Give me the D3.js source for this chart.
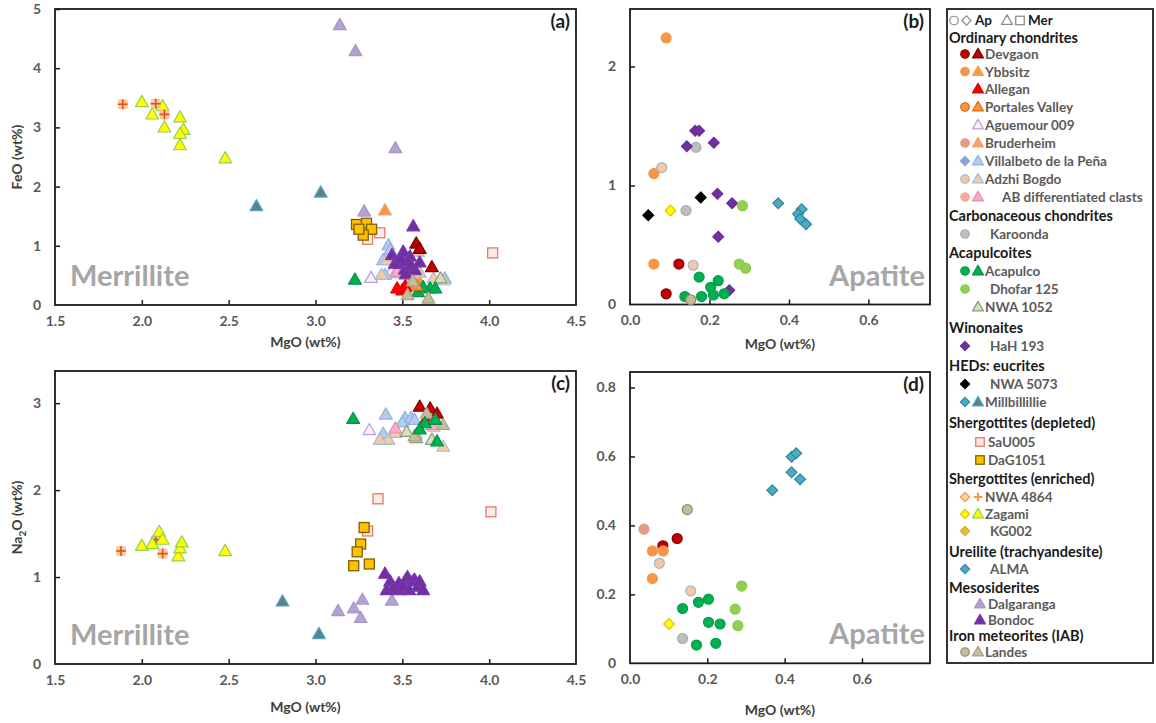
<!DOCTYPE html>
<html><head><meta charset="utf-8">
<script src="https://cdn.jsdelivr.net/npm/d3@7"></script>
<style>body{margin:0;background:#fff}</style>
</head><body>
<svg id="chart" width="1156" height="723"></svg>
<script>
// ---------------- DATA ----------------
// Panel (a): merrillite FeO vs MgO (wt%)
const zagamiMerFeO      = [[2.00,3.43],[2.12,3.36],[2.06,3.22],[2.22,3.17],[2.13,3.00],[2.24,2.96],[2.22,2.89],[2.22,2.70],[2.48,2.48]];
const nwa4864MerFeO     = [[1.89,3.39],[2.08,3.40],[2.13,3.22]];
const millbilMerFeO     = [[2.66,1.67],[3.03,1.90]];
const dalgarangaMerFeO  = [[3.14,4.73],[3.23,4.29],[3.46,2.65],[3.28,1.58]];
const sau005MerFeO      = [[3.37,1.22],[3.30,1.11],[4.02,0.88]];
const dag1051MerFeO     = [[3.236,1.36],[3.294,1.38],[3.323,1.28],[3.275,1.18],[3.25,1.28]];
const ybbsitzMerFeO     = [[3.40,1.60],[3.55,0.37],[3.60,0.39]];
const aguemourMerFeO    = [[3.32,0.46],[3.44,0.58]];
const villalbetoMerFeO  = [[3.42,1.01],[3.39,0.76],[3.40,0.51],[3.745,0.45],[3.43,0.93]];
const adzhiMerFeO       = [[3.59,0.90],[3.68,0.45],[3.74,0.42],[3.41,0.76],[3.46,0.54],[3.38,0.51],[3.60,0.55],[3.52,0.62]];
const abClastMerFeO     = [[3.47,0.56],[3.55,0.47]];
const bondocMerFeO      = [[3.563,1.33],[3.44,0.845],[3.505,0.90],[3.544,0.82],[3.486,0.70],[3.573,0.59],[3.515,0.60],[3.457,0.70],[3.534,0.73],[3.49,0.79],[3.55,0.67],[3.60,0.72],[3.52,0.52]];
const devgaonMerFeO     = [[3.58,1.04],[3.67,0.64],[3.60,0.95]];
const acapulcoMerFeO    = [[3.227,0.43],[3.59,0.22],[3.66,0.28],[3.69,0.28],[3.62,0.30]];
const portalesMerFeO    = [[3.58,0.33],[3.52,0.30]];
const alleganMerFeO     = [[3.50,0.25],[3.515,0.31],[3.47,0.28]];
const landesMerFeO      = [[3.65,0.11],[3.53,0.17],[3.56,0.40]];
const nwa1052MerFeO     = [[3.72,0.45]];

// Panel (b): apatite FeO vs MgO (wt%)
const ybbsitzApFeO   = [[0.091,2.24],[0.060,1.10],[0.060,0.34]];
const adzhiApFeO     = [[0.080,1.15],[0.159,0.33]];
const hah193ApFeO    = [[0.164,1.46],[0.174,1.46],[0.143,1.33],[0.211,1.36],[0.220,0.93],[0.257,0.85],[0.222,0.57],[0.250,0.12]];
const karoondaApFeO  = [[0.166,1.32],[0.141,0.79]];
const nwa5073ApFeO   = [[0.046,0.75],[0.178,0.90]];
const zagamiApFeO    = [[0.102,0.79]];
const dhofarApFeO    = [[0.283,0.83],[0.275,0.34],[0.291,0.305]];
const almaApFeO      = [[0.373,0.85],[0.432,0.80],[0.423,0.76],[0.428,0.72],[0.443,0.675]];
const devgaonApFeO   = [[0.123,0.34],[0.091,0.09]];
const acapulcoApFeO  = [[0.174,0.23],[0.222,0.20],[0.203,0.145],[0.138,0.067],[0.180,0.067],[0.210,0.08],[0.237,0.09]];
const landesApFeO    = [[0.153,0.04]];

// Panel (c): merrillite Na2O vs MgO (wt%)
const nwa4864MerNa     = [[1.88,1.30],[2.08,1.43],[2.12,1.27]];
const zagamiMerNa      = [[2.00,1.36],[2.06,1.38],[2.10,1.52],[2.12,1.43],[2.21,1.24],[2.22,1.33],[2.23,1.40],[2.48,1.30]];
const millbilMerNa     = [[2.81,0.72],[3.02,0.345]];
const dalgarangaMerNa  = [[3.13,0.61],[3.22,0.64],[3.27,0.74],[3.26,0.53],[3.44,0.73]];
const sau005MerNa      = [[3.36,1.90],[4.01,1.75],[3.30,1.53]];
const dag1051MerNa     = [[3.28,1.57],[3.26,1.38],[3.24,1.29],[3.22,1.13],[3.31,1.15]];
const bondocMerNa      = [[3.40,1.04],[3.43,0.95],[3.41,0.85],[3.48,0.93],[3.52,0.97],[3.56,0.95],[3.59,0.89],[3.54,0.85],[3.62,0.85],[3.48,0.85],[3.57,0.97],[3.50,0.90],[3.45,0.88],[3.60,0.95],[3.53,1.00]];
const acapulcoMerNa    = [[3.217,2.82],[3.63,2.77],[3.69,2.81],[3.70,2.56],[3.60,2.70]];
const aguemourMerNa    = [[3.31,2.69]];
const villalbetoMerNa  = [[3.405,2.87],[3.515,2.83],[3.55,2.83],[3.57,2.81],[3.39,2.65],[3.50,2.78]];
const devgaonMerNa     = [[3.60,2.96],[3.66,2.94],[3.70,2.88]];
const adzhiMerNa       = [[3.42,2.58],[3.58,2.64],[3.735,2.50],[3.68,2.73],[3.37,2.58],[3.46,2.66]];
const abClastMerNa     = [[3.46,2.71],[3.67,2.75]];
const nwa1052MerNa     = [[3.525,2.67],[3.67,2.58],[3.58,2.60]];
const landesMerNa      = [[3.64,2.88],[3.735,2.75],[3.57,2.62]];
const alleganMerNa     = [[3.64,2.83]];

// Panel (d): apatite Na2O vs MgO (wt%)
const almaApNa       = [[0.368,0.502],[0.418,0.599],[0.430,0.609],[0.418,0.554],[0.440,0.534]];
const landesApNa     = [[0.148,0.446]];
const bruderheimApNa = [[0.036,0.389]];
const devgaonApNa    = [[0.122,0.362],[0.085,0.341]];
const ybbsitzApNa    = [[0.058,0.326],[0.086,0.326],[0.058,0.246]];
const adzhiApNa      = [[0.076,0.290],[0.157,0.210]];
const acapulcoApNa   = [[0.136,0.159],[0.177,0.177],[0.203,0.186],[0.203,0.119],[0.233,0.114],[0.172,0.053],[0.222,0.058]];
const dhofarApNa     = [[0.289,0.224],[0.272,0.157],[0.279,0.109]];
const zagamiApNa     = [[0.101,0.114]];
const karoondaApNa   = [[0.136,0.072]];

// Tick values
const mgoMerTicks = [1.5,2.0,2.5,3.0,3.5,4.0,4.5];
const mgoApTicks  = [0.0,0.2,0.4,0.6];
const feoMerTicks = [0,1,2,3,4,5];
const feoApTicks  = [0,1,2];
const naMerTicks  = [0,1,2,3];
const naApTicks   = [0,0.2,0.4,0.6,0.8];

// ---------------- STYLES ----------------
const STY = {
  devgaon:    {circle:{f:'#C00000',s:'#8B0000'}, tri:{f:'#C00000',s:'#7F0000'}},
  ybbsitz:    {circle:{f:'#F79646',s:'#F79646'}, tri:{f:'#F79646',s:'#F4A460'}},
  allegan:    {tri:{f:'#FF0000',s:'#E00000'}},
  portales:   {circle:{f:'#F79646',s:'#D9620A'}, tri:{f:'#F79646',s:'#E46C0A'}},
  aguemour:   {tri:{f:'#FBEFF8',s:'#B79FD8'}},
  bruderheim: {circle:{f:'#E39B86',s:'#E39B86'}, tri:{f:'#F2A46E',s:'#F2A46E'}},
  villalbeto: {diamond:{f:'#8EA2DB',s:'#8EA2DB'}, tri:{f:'#B8CBEA',s:'#8DB4E2'}},
  adzhi:      {circle:{f:'#F6C7A6',s:'#9FB6C6'}, tri:{f:'#F8C9A4',s:'#9FC0D6'}},
  abclast:    {circle:{f:'#F5A9A0',s:'#F5A9A0'}, tri:{f:'#F6AEC8',s:'#E98AB4'}},
  karoonda:   {circle:{f:'#BFBFBF',s:'#ABABAB'}},
  acapulco:   {circle:{f:'#00B050',s:'#00A04A'}, tri:{f:'#00B050',s:'#009444'}},
  dhofar:     {circle:{f:'#92D050',s:'#8CC84B'}},
  nwa1052:    {tri:{f:'#D6DFC0',s:'#8C9A7C'}},
  hah193:     {diamond:{f:'#7030A0',s:'#6A2C98'}},
  nwa5073:    {diamond:{f:'#000000',s:'#000000'}},
  millbil:    {diamond:{f:'#4BACC6',s:'#31859C'}, tri:{f:'#5F7F8B',s:'#4BACC6'}},
  sau005:     {square:{f:'#FDECE6',s:'#E07B6E'}},
  dag1051:    {square:{f:'#FFC000',s:'#7F6000'}},
  nwa4864:    {diamond:{f:'#FAD3A8',s:'#F79646'}, cross:{f:'#FAC090',s:'#E0501A'}},
  zagami:     {diamond:{f:'#FFFF00',s:'#E8C000'}, tri:{f:'#FFFF00',s:'#92D050'}},
  kg002:      {diamond:{f:'#E2BD3C',s:'#D4AC2C'}},
  alma:       {diamond:{f:'#4BACC6',s:'#31859C'}},
  dalgaranga: {tri:{f:'#B4A2D2',s:'#A896CB'}},
  bondoc:     {tri:{f:'#7030A0',s:'#7A36AC'}},
  landes:     {circle:{f:'#C4BD97',s:'#948A6A'}, tri:{f:'#C4BD97',s:'#A8A288'}}
};

const FONT = "Lato, 'Open Sans', 'DejaVu Sans', sans-serif";
const svg = d3.select('#chart').style('font-family', FONT);

function marker(g, shape, st, k) {
  const sw = 1.2;
  if (shape === 'circle') {
    g.append('circle').attr('r', 5*k).attr('fill', st.f).attr('stroke', st.s).attr('stroke-width', sw);
  } else if (shape === 'tri') {
    g.append('path').attr('d', `M0,${-6.6*k}L${6.4*k},${4.6*k}L${-6.4*k},${4.6*k}Z`)
      .attr('fill', st.f).attr('stroke', st.s).attr('stroke-width', sw).attr('stroke-linejoin','round');
  } else if (shape === 'diamond') {
    const r = 5.4*k;
    g.append('path').attr('d', `M0,${-r}L${r},0L0,${r}L${-r},0Z`)
      .attr('fill', st.f).attr('stroke', st.s).attr('stroke-width', sw);
  } else if (shape === 'square') {
    const r = 5*k;
    g.append('rect').attr('x', -r).attr('y', -r).attr('width', 2*r).attr('height', 2*r)
      .attr('fill', st.f).attr('stroke', st.s).attr('stroke-width', 1.3);
  } else if (shape === 'cross') {
    const r = 5*k;
    if (k >= 1) g.append('rect').attr('x', -r).attr('y', -r).attr('width', 2*r).attr('height', 2*r)
      .attr('rx', 2).attr('fill', st.f).attr('opacity', 0.85);
    g.append('path').attr('d', `M${-r},0H${r}M0,${-r}V${r}`)
      .attr('stroke', k >= 1 ? st.s : '#F79646').attr('stroke-width', k >= 1 ? 1.6 : 2.2);
  }
}

// ---------------- PANELS ----------------
const panels = [
  { id:'a', xd:[1.5,4.5], xr:[55,576], yd:[0,5], yr:[305,9], xt:mgoMerTicks, yt:feoMerTicks,
    xf:d3.format('.1f'), yf:d3.format('d'), water:'Merrillite', yTitle:'FeO (wt%)',
    series:[
      [zagamiMerFeO,'zagami','tri'],[nwa4864MerFeO,'nwa4864','cross'],[millbilMerFeO,'millbil','tri'],
      [dalgarangaMerFeO,'dalgaranga','tri'],[sau005MerFeO,'sau005','square'],[dag1051MerFeO,'dag1051','square'],
      [ybbsitzMerFeO,'ybbsitz','tri'],[aguemourMerFeO,'aguemour','tri'],[villalbetoMerFeO,'villalbeto','tri'],
      [adzhiMerFeO,'adzhi','tri'],[abClastMerFeO,'abclast','tri'],[bondocMerFeO,'bondoc','tri'],
      [devgaonMerFeO,'devgaon','tri'],[nwa1052MerFeO,'nwa1052','tri'],[acapulcoMerFeO,'acapulco','tri'],
      [portalesMerFeO,'portales','tri'],[alleganMerFeO,'allegan','tri'],[landesMerFeO,'landes','tri']
    ]},
  { id:'b', xd:[0,0.755], xr:[630,930], yd:[0,2.483], yr:[304.5,9], xt:mgoApTicks, yt:feoApTicks,
    xf:d3.format('.1f'), yf:d3.format('d'), water:'Apatite', yTitle:null,
    series:[
      [ybbsitzApFeO,'ybbsitz','circle'],[adzhiApFeO,'adzhi','circle'],[karoondaApFeO,'karoonda','circle'],
      [hah193ApFeO,'hah193','diamond'],[nwa5073ApFeO,'nwa5073','diamond'],[zagamiApFeO,'zagami','diamond'],
      [dhofarApFeO,'dhofar','circle'],[almaApFeO,'alma','diamond'],[devgaonApFeO,'devgaon','circle'],
      [acapulcoApFeO,'acapulco','circle'],[landesApFeO,'landes','circle']
    ]},
  { id:'c', xd:[1.5,4.5], xr:[55,576], yd:[0,3.37], yr:[664,371], xt:mgoMerTicks, yt:naMerTicks,
    xf:d3.format('.1f'), yf:d3.format('d'), water:'Merrillite', yTitle:'Na2O',
    series:[
      [nwa4864MerNa,'nwa4864','cross'],[zagamiMerNa,'zagami','tri'],[millbilMerNa,'millbil','tri'],
      [dalgarangaMerNa,'dalgaranga','tri'],[sau005MerNa,'sau005','square'],[dag1051MerNa,'dag1051','square'],
      [bondocMerNa,'bondoc','tri'],[aguemourMerNa,'aguemour','tri'],[villalbetoMerNa,'villalbeto','tri'],
      [devgaonMerNa,'devgaon','tri'],[alleganMerNa,'allegan','tri'],[adzhiMerNa,'adzhi','tri'],
      [nwa1052MerNa,'nwa1052','tri'],[abClastMerNa,'abclast','tri'],[landesMerNa,'landes','tri'],
      [acapulcoMerNa,'acapulco','tri']
    ]},
  { id:'d', xd:[0,0.776], xr:[630,930], yd:[0,0.845], yr:[663.3,372], xt:mgoApTicks, yt:naApTicks,
    xf:d3.format('.1f'), yf:(v)=> v===0 ? '0' : d3.format('.1f')(v), water:'Apatite', yTitle:null,
    series:[
      [almaApNa,'alma','diamond'],[landesApNa,'landes','circle'],[bruderheimApNa,'bruderheim','circle'],
      [devgaonApNa,'devgaon','circle'],[ybbsitzApNa,'ybbsitz','circle'],[adzhiApNa,'adzhi','circle'],
      [acapulcoApNa,'acapulco','circle'],[dhofarApNa,'dhofar','circle'],[zagamiApNa,'zagami','diamond'],
      [karoondaApNa,'karoonda','circle']
    ]}
];

panels.forEach(p => {
  const x = d3.scaleLinear().domain(p.xd).range(p.xr);
  const y = d3.scaleLinear().domain(p.yd).range(p.yr);
  const g = svg.append('g');

  // frame
  g.append('rect').attr('x', p.xr[0]).attr('y', p.yr[1]).attr('width', p.xr[1]-p.xr[0])
    .attr('height', p.yr[0]-p.yr[1]).attr('fill','none').attr('stroke','#1a1a1a').attr('stroke-width',1.8);

  // axes with inward ticks
  const ax = g.append('g').attr('transform', `translate(0,${p.yr[0]})`)
    .call(d3.axisBottom(x).tickValues(p.xt).tickFormat(p.xf).tickSizeInner(-5).tickSizeOuter(0).tickPadding(11));
  const ay = g.append('g').attr('transform', `translate(${p.xr[0]},0)`)
    .call(d3.axisLeft(y).tickValues(p.yt).tickFormat(p.yf).tickSizeInner(-5).tickSizeOuter(0).tickPadding(14));
  [ax, ay].forEach(a => {
    a.select('.domain').remove();
    a.selectAll('.tick line').attr('stroke','#1a1a1a').attr('stroke-width',1.5);
    a.selectAll('.tick text').attr('fill','#595959').style('font-size','14px').style('font-weight','bold')
      .style('font-family', FONT);
  });
  ax.selectAll('.tick').filter(d => d === p.xd[0] || Math.abs(d - p.xd[1]) < 1e-9).select('line').remove();
  ay.selectAll('.tick').filter(d => d === p.yd[0]).select('line').remove();

  // watermark
  const isMer = p.water === 'Merrillite';
  g.append('text').attr('x', isMer ? p.xr[0]+15 : p.xr[1]-5).attr('y', p.yr[0]-19)
    .attr('text-anchor', isMer ? 'start' : 'end').attr('fill','#A6A6A6')
    .style('font-size','29px').style('font-weight','bold').text(p.water);

  // panel label
  g.append('text').attr('x', p.xr[1]-6).attr('y', p.yr[1]+19).attr('text-anchor','end')
    .attr('fill','#1a1a1a').style('font-size','19px').style('font-weight','bold').text(`(${p.id})`);

  // x title
  const titleY = p.id === 'a' ? 347 : p.id === 'b' ? 349 : p.id === 'c' ? 712 : 715;
  g.append('text').attr('x', (p.xr[0]+p.xr[1])/2 + (isMer ? -10 : 0)).attr('y', titleY).attr('text-anchor','middle')
    .attr('fill','#404040').style('font-size','14px').style('font-weight','bold').text('MgO (wt%)');

  // y title
  if (p.yTitle) {
    const t = g.append('text').attr('transform', `translate(22,${(p.yr[0]+p.yr[1])/2}) rotate(-90)`)
      .attr('text-anchor','middle').attr('fill','#404040').style('font-size','14px').style('font-weight','bold');
    if (p.yTitle === 'Na2O') {
      t.append('tspan').text('Na');
      t.append('tspan').attr('dy', 4).style('font-size','10px').text('2');
      t.append('tspan').attr('dy', -4).text('O (wt%)');
    } else t.text(p.yTitle);
  }

  // points
  p.series.forEach(([data, key, shape]) => {
    const st = STY[key][shape];
    data.forEach(d => {
      const m = g.append('g').attr('transform', `translate(${x(d[0])},${y(d[1])})`);
      marker(m, shape, st, 1);
    });
  });
});

// ---------------- LEGEND ----------------
const legendRows = [
  ['h','Ordinary chondrites'],
  ['i','Devgaon',[['devgaon','circle'],['devgaon','tri']]],
  ['i','Ybbsitz',[['ybbsitz','circle'],['ybbsitz','tri']]],
  ['i','Allegan',[null,['allegan','tri']]],
  ['i','Portales Valley',[['portales','circle'],['portales','tri']]],
  ['i','Aguemour 009',[null,['aguemour','tri']]],
  ['i','Bruderheim',[['bruderheim','circle'],['bruderheim','tri']]],
  ['i','Villalbeto de la Peña',[['villalbeto','diamond'],['villalbeto','tri']]],
  ['i','Adzhi Bogdo',[['adzhi','circle'],['adzhi','tri']]],
  ['i','AB differentiated clasts',[['abclast','circle'],['abclast','tri']],'wide'],
  ['h','Carbonaceous chondrites'],
  ['i','Karoonda',[['karoonda','circle']],'single'],
  ['h','Acapulcoites'],
  ['i','Acapulco',[['acapulco','circle'],['acapulco','tri']]],
  ['i','Dhofar 125',[['dhofar','circle']],'single'],
  ['i','NWA 1052',[null,['nwa1052','tri']]],
  ['h','Winonaites'],
  ['i','HaH 193',[['hah193','diamond']],'single'],
  ['h','HEDs: eucrites'],
  ['i','NWA 5073',[['nwa5073','diamond']],'single'],
  ['i','Millbillillie',[['millbil','diamond'],['millbil','tri']]],
  ['h','Shergottites (depleted)'],
  ['i','SaU005',[null,['sau005','square']],'sq'],
  ['i','DaG1051',[null,['dag1051','square']],'sq'],
  ['h','Shergottites (enriched)'],
  ['i','NWA 4864',[['nwa4864','diamond'],['nwa4864','cross']]],
  ['i','Zagami',[['zagami','diamond'],['zagami','tri']]],
  ['i','KG002',[['kg002','diamond']],'single'],
  ['h','Ureilite (trachyandesite)'],
  ['i','ALMA',[['alma','diamond']],'single'],
  ['h','Mesosiderites'],
  ['i','Dalgaranga',[null,['dalgaranga','tri']],'meso'],
  ['i','Bondoc',[null,['bondoc','tri']],'meso'],
  ['h','Iron meteorites (IAB)'],
  ['i','Landes',[['landes','circle'],['landes','tri']]]
];
const legendYs = [37.5,54,71.5,89,107,125,143,161,179,197,216,234,253,271,289,307,328,346,366,384,402,423,442,460,479,497,514,531,552,569,588,604,620,636,652];

const lg = svg.append('g');
lg.append('rect').attr('x',947).attr('y',9).attr('width',206).attr('height',654)
  .attr('fill','none').attr('stroke','#333').attr('stroke-width',2);

// first row: symbol key
const hollow = {f:'#fff', s:'#8c8c8c'};
const keyY = 20.5;
[['circle',954],['diamond',966.5]].forEach(([s,xx]) => marker(lg.append('g').attr('transform',`translate(${xx},${keyY})`), s, hollow, 0.85));
[['tri',1007],['square',1020]].forEach(([s,xx]) => marker(lg.append('g').attr('transform',`translate(${xx},${keyY})`), s, hollow, 0.85));
lg.append('text').attr('x',975).attr('y',keyY+4.5).attr('fill','#1a1a1a').style('font-size','13.5px').style('font-weight','bold').text('Ap');
lg.append('text').attr('x',1028).attr('y',keyY+4.5).attr('fill','#1a1a1a').style('font-size','13.5px').style('font-weight','bold').text('Mer');

legendRows.forEach((r, i) => {
  const yy = legendYs[i];
  if (r[0] === 'h') {
    lg.append('text').attr('x',949).attr('y',yy+5).attr('fill','#1a1a1a')
      .style('font-size','14.5px').style('font-weight','bold').text(r[1]);
  } else {
    const mode = r[3];
    const syms = r[2];
    const sx = mode === 'sq' ? [965, 980] : mode === 'meso' ? [965, 980] : [965, 978];
    syms.forEach((s, j) => {
      if (!s) return;
      marker(lg.append('g').attr('transform',`translate(${sx[j]},${yy})`), s[1], STY[s[0]][s[1]], 0.85);
    });
    const tx = mode === 'single' ? 990 : mode === 'wide' ? 1002 : mode === 'sq' ? 988 : mode === 'meso' ? 988 : 985;
    lg.append('text').attr('x',tx).attr('y',yy+5).attr('fill','#5a5a5a')
      .style('font-size','13.5px').style('font-weight','bold').text(r[1]);
  }
});
</script>
</body></html>
